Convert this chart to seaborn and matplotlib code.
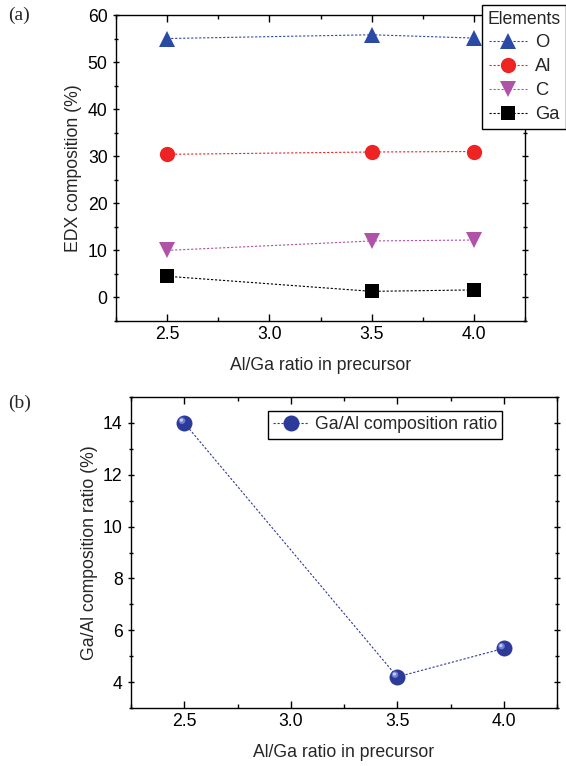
import numpy as np
import pandas as pd
import matplotlib
matplotlib.use("Agg")
import matplotlib.pyplot as plt
from matplotlib.ticker import MultipleLocator
from matplotlib.transforms import offset_copy
import seaborn as sns

# ─── Data ─────────────────────────────────
ratio = [2.5, 3.5, 4.0]
elements = ["O", "Al", "C", "Ga"]
o_vals = [55.0, 55.8, 55.1]
al_vals = [30.4, 30.9, 31.0]
c_vals = [10.0, 12.0, 12.2]
ga_vals = [4.5, 1.3, 1.6]
ga_al_ratio = [14.0, 4.2, 5.3]

colors = {"O": "#2a4aa6", "Al": "#ee2424", "C": "#b052a8", "Ga": "#000000"}
markers = {"O": "^", "Al": "o", "C": "v", "Ga": "s"}
msizes = {"O": 11, "Al": 11, "C": 11, "Ga": 9.5}

df = pd.DataFrame({
    "ratio": ratio * 4,
    "value": o_vals + al_vals + c_vals + ga_vals,
    "element": [e for e in elements for _ in ratio],
})
df_b = pd.DataFrame({"ratio": ratio, "value": ga_al_ratio})

sns.set_style("ticks")
plt.rcParams["font.family"] = ["Liberation Sans", "DejaVu Sans"]
plt.rcParams["axes.linewidth"] = 1.0

FS = 12.7
W, H = 566, 766
fig = plt.figure(figsize=(W / 100, H / 100), dpi=100)


def px_axes(l, t, r, b):
    return fig.add_axes([l / W, 1 - b / H, (r - l) / W, (b - t) / H])


def style_axes(ax):
    ax.tick_params(which="both", direction="in", top=True, right=True,
                   labelsize=FS, colors="black")
    ax.tick_params(axis="y", which="both", direction="inout", left=True)
    ax.tick_params(which="major", length=5, width=1)
    ax.tick_params(which="minor", length=3, width=1)
    for s in ax.spines.values():
        s.set_visible(True)
        s.set_color("black")


# ─── Panel (a) ─────────────────────────────────
ax1 = px_axes(116, 15, 525, 321)
for el in elements:
    sub = df[df["element"] == el]
    sns.lineplot(data=sub, x="ratio", y="value", ax=ax1, color=colors[el],
                 marker=markers[el], markersize=msizes[el], markeredgewidth=0,
                 linestyle=(0, (2, 1.6)), linewidth=0.8, label=el)
ax1.set_xlim(2.25, 4.25)
ax1.set_ylim(-5, 60)
ax1.xaxis.set_major_locator(MultipleLocator(0.5))
ax1.xaxis.set_minor_locator(MultipleLocator(0.25))
ax1.yaxis.set_major_locator(MultipleLocator(10))
ax1.yaxis.set_minor_locator(MultipleLocator(5))
ax1.set_xlabel("Al/Ga ratio in precursor", fontsize=FS, labelpad=10)
ax1.set_ylabel("EDX composition (%)", fontsize=FS, labelpad=4.5)
style_axes(ax1)
ax1.legend_.remove()
h, l = ax1.get_legend_handles_labels()
leg1 = fig.legend(h, l, title="Elements", loc="upper right",
                  bbox_to_anchor=(1.0, 1 - 5 / H), fontsize=FS + 0.5,
                  title_fontsize=FS, frameon=True, fancybox=False,
                  edgecolor="black", framealpha=1, handlelength=2.1,
                  handletextpad=0.4, borderpad=0.3, labelspacing=0.38,
                  borderaxespad=0)
leg1.get_frame().set_linewidth(1.0)

# ─── Panel (b) ─────────────────────────────────
ax2 = px_axes(131, 397, 557, 708)
sns.lineplot(data=df_b, x="ratio", y="value", ax=ax2, color="#2c3a9a",
             marker="o", markersize=11.5, markeredgewidth=0,
             linestyle=(0, (2, 1.6)), linewidth=0.8,
             label="Ga/Al composition ratio")
# highlight on the spheres
hl = offset_copy(ax2.transData, fig=fig, x=-1.6, y=1.6, units="points")
ax2.scatter(df_b["ratio"], df_b["value"], s=22, color="#6f7fd6",
            edgecolors="none", transform=hl, zorder=5)
hl2 = offset_copy(ax2.transData, fig=fig, x=-2.0, y=2.0, units="points")
ax2.scatter(df_b["ratio"], df_b["value"], s=5, color="#c8d0f4",
            edgecolors="none", transform=hl2, zorder=6)
ax2.set_xlim(2.25, 4.25)
ax2.set_ylim(3, 15)
ax2.xaxis.set_major_locator(MultipleLocator(0.5))
ax2.xaxis.set_minor_locator(MultipleLocator(0.25))
ax2.yaxis.set_major_locator(MultipleLocator(2))
ax2.yaxis.set_minor_locator(MultipleLocator(1))
ax2.set_xlabel("Al/Ga ratio in precursor", fontsize=FS, labelpad=10)
ax2.set_ylabel("Ga/Al composition ratio (%)", fontsize=FS, labelpad=3.5)
style_axes(ax2)
leg2 = ax2.legend(loc="upper right", bbox_to_anchor=(0.871, 0.955),
                  fontsize=FS, frameon=True,
                  fancybox=False, edgecolor="black", framealpha=1,
                  handlelength=2.0, handletextpad=0.35, borderpad=0.3,
                  borderaxespad=0)
leg2.get_frame().set_linewidth(1.0)

fig.text(8 / W, 1 - 15 / H, "(a)", family="Liberation Serif", fontsize=14,
         va="center", ha="left")
fig.text(8 / W, 1 - 403 / H, "(b)", family="Liberation Serif", fontsize=14,
         va="center", ha="left")

fig.savefig("out.png", dpi=100)
